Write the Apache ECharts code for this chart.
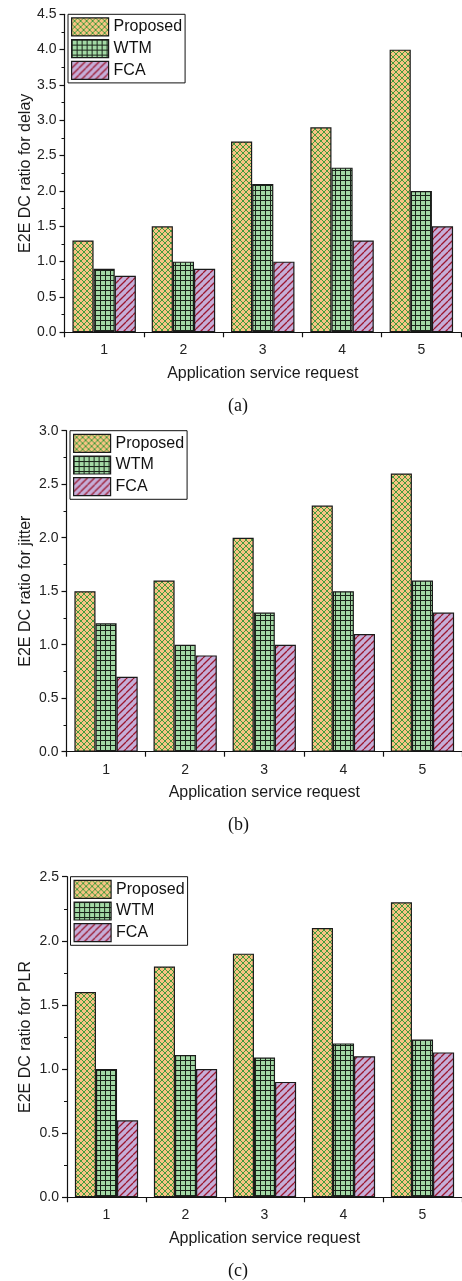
<!DOCTYPE html>
<html>
<head>
<meta charset="utf-8">
<style>
html,body{margin:0;padding:0;background:#fff;}
#chart{width:462px;height:1281px;}
</style>
<script src="https://cdn.jsdelivr.net/npm/echarts@6/dist/echarts.min.js"></script>
</head>
<body>
<div id="chart"></div>
<script>
// ---- data ----
const categories = ['1', '2', '3', '4', '5'];
const seriesNames = ['Proposed', 'WTM', 'FCA'];

const delayProposed = [1.3, 1.5, 2.7, 2.9, 4.0];
const delayWTM      = [0.9, 1.0, 2.1, 2.33, 2.0];
const delayFCA      = [0.8, 0.9, 1.0, 1.3, 1.5];

const jitterProposed = [1.5, 1.6, 2.0, 2.3, 2.6];
const jitterWTM      = [1.2, 1.0, 1.3, 1.5, 1.6];
const jitterFCA      = [0.7, 0.9, 1.0, 1.1, 1.3];

const plrProposed = [1.6, 1.8, 1.9, 2.1, 2.3];
const plrWTM      = [1.0, 1.11, 1.09, 1.2, 1.23];
const plrFCA      = [0.6, 1.0, 0.9, 1.1, 1.13];

const yNames = ['E2E DC ratio for delay', 'E2E DC ratio for jitter', 'E2E DC ratio for PLR'];
const yMax = [4.5, 3.0, 2.5];
const xName = 'Application service request';
const captions = ['(a)', '(b)', '(c)'];

// ---- patterns ----
function diagTile(size, bg, line, lw, dirs) {
  const c = document.createElement('canvas');
  c.width = size; c.height = size;
  const ctx = c.getContext('2d');
  ctx.fillStyle = bg; ctx.fillRect(0, 0, size, size);
  ctx.strokeStyle = line; ctx.lineWidth = lw;
  for (const d of dirs) {
    for (const k of [-size, 0, size]) {
      ctx.beginPath();
      if (d === '\\') { ctx.moveTo(k, 0); ctx.lineTo(k + size, size); }
      else { ctx.moveTo(k, size); ctx.lineTo(k + size, 0); }
      ctx.stroke();
    }
  }
  return c;
}
function gridTile(size, bg, line, lw) {
  const c = document.createElement('canvas');
  c.width = size; c.height = size;
  const ctx = c.getContext('2d');
  ctx.fillStyle = bg; ctx.fillRect(0, 0, size, size);
  ctx.fillStyle = line;
  ctx.fillRect(0, 0, lw, size);
  ctx.fillRect(0, 0, size, lw);
  return c;
}
const patProposed = { image: diagTile(6, '#f7c384', '#2c9633', 0.9, ['\\', '/']), repeat: 'repeat' };
const patWTM = { image: gridTile(5, '#a3d9a5', '#1a241a', 1), repeat: 'repeat' };
const patFCA = { image: diagTile(7, '#c6aed8', '#9a1830', 1.25, ['/']), repeat: 'repeat' };
const patterns = [patProposed, patWTM, patFCA];

const panels = [
  { data: [delayProposed, delayWTM, delayFCA], left: 64.5, top: 14.3, height: 318, width: 396.5, nameGap: 31 },
  { data: [jitterProposed, jitterWTM, jitterFCA], left: 66.5, top: 430.7, height: 321, width: 396, nameGap: 33 },
  { data: [plrProposed, plrWTM, plrFCA], left: 67, top: 876.7, height: 320.6, width: 395, nameGap: 33 }
];
const captionY = [407, 826, 1272];

const font = 'Liberation Sans, Arial, sans-serif';
const grid = [], xAxis = [], yAxis = [], series = [], legend = [], graphic = [];

panels.forEach((p, i) => {
  grid.push({ left: p.left, top: p.top, width: p.width, height: p.height, containLabel: false });
  xAxis.push({
    type: 'category', gridIndex: i, data: categories,
    name: xName, nameLocation: 'middle', nameGap: 33, nameMoveOverlap: false,
    nameTextStyle: { fontFamily: font, fontSize: 16, color: '#1a1a1a' },
    axisLine: { lineStyle: { color: '#111', width: 1.2 } },
    axisTick: { show: true, length: 5, lineStyle: { color: '#111', width: 1.2 } },
    axisLabel: { fontFamily: font, fontSize: 14, color: '#222', margin: 11 },
    splitLine: { show: false }
  });
  yAxis.push({
    type: 'value', gridIndex: i, min: 0, max: yMax[i], interval: 0.5,
    name: yNames[i], nameLocation: 'middle', nameGap: p.nameGap, nameRotate: 90,
    nameMoveOverlap: false,
    nameTextStyle: { fontFamily: font, fontSize: 16, color: '#1a1a1a' },
    axisLine: { show: true, lineStyle: { color: '#111', width: 1.2 } },
    axisTick: { show: true, length: 5, lineStyle: { color: '#111', width: 1.2 } },
    minorTick: { show: true, splitNumber: 2, length: 3, lineStyle: { color: '#111', width: 1 } },
    axisLabel: { fontFamily: font, fontSize: 14, color: '#222', margin: 8,
      formatter: v => v.toFixed(1) },
    splitLine: { show: false }
  });
  seriesNames.forEach((n, j) => {
    series.push({
      type: 'bar', name: n, xAxisIndex: i, yAxisIndex: i,
      data: p.data[j],
      barGap: '0%', barCategoryGap: '20%',
      itemStyle: { color: patterns[j], borderColor: '#1a1a1a', borderWidth: 1.2 },
      emphasis: { disabled: true },
      animation: false
    });
  });
  legend.push({
    data: seriesNames, orient: 'vertical',
    left: p.left + 3.5, top: p.top,
    itemWidth: 37, itemHeight: 18, itemGap: 2.5, padding: 3,
    borderColor: '#111', borderWidth: 1, backgroundColor: '#fff',
    icon: 'rect', selectedMode: false,
    textStyle: { fontFamily: font, fontSize: 16, color: '#111', padding: [0, 0, 0, 0] },
    itemStyle: { borderColor: '#1a1a1a', borderWidth: 1.2 }
  });
  graphic.push({
    type: 'text', left: 240 - 12, top: captionY[i] - 10,
    style: { text: captions[i], font: '18px "Liberation Serif", "Times New Roman", serif', fill: '#111' }
  });
});

const chart = echarts.init(document.getElementById('chart'), null, { renderer: 'canvas' });
chart.setOption({
  backgroundColor: '#fff',
  animation: false,
  grid, xAxis, yAxis, series, legend, graphic
});
</script>
</body>
</html>
